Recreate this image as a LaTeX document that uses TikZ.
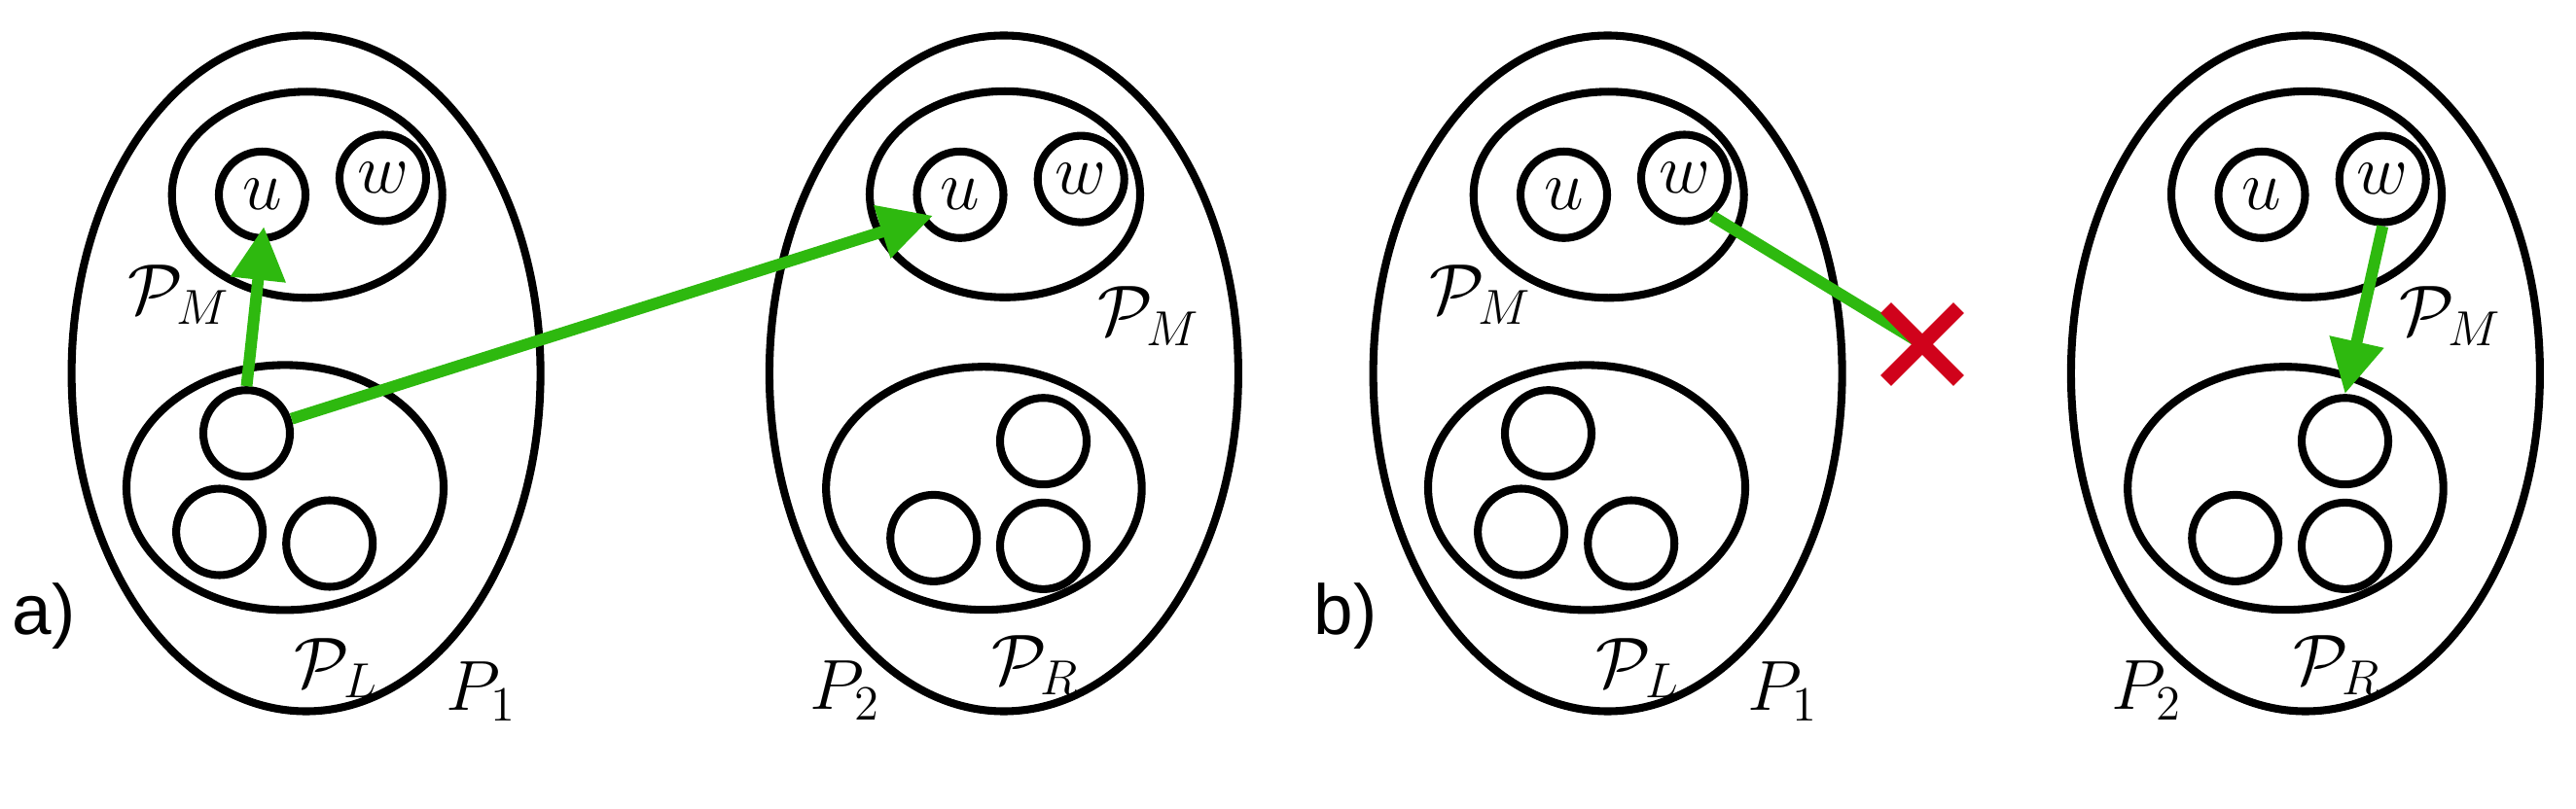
\documentclass[tikz,border=0pt]{standalone}
\usepackage{amsmath,amssymb}
\usepackage{fontspec}
\newfontfamily\panelfont{Liberation Sans}
\usepackage{tikz}
\usetikzlibrary{calc, arrows.meta, shapes.geometric, shapes.misc}
\tikzset{>={Triangle[length = 0.55cm, width = 0.54cm]}}
\definecolor{mygreen}{RGB}{46, 185, 15}
\definecolor{myred}{RGB}{208, 2, 27}
\tikzset{part/.style = {draw, ellipse, line width = 2.3pt, inner sep = 0pt},
  whole/.style = {part, minimum width = 4.82cm, minimum height = 6.95cm},
  mid/.style = {part, minimum width = 2.78cm, minimum height = 2.12cm},
  side/.style = {part, minimum width = 3.26cm, minimum height = 2.52cm},
  vert/.style = {draw, circle, line width = 2.3pt, minimum size = 0.89cm, inner sep = 0pt, font = \fontsize{20.74}{25}\selectfont},
  lbl/.style = {font = \fontsize{20.74}{25}\selectfont},
  tag/.style = {font = \panelfont\fontsize{20.74}{25}\selectfont},
  move/.style = {->, line width = 3.4pt, mygreen},
  cut/.style = {line width = 3.4pt, mygreen}}

\begin{document}
\begin{tikzpicture}
\useasboundingbox (0, 0) rectangle (26.48, -8.32);
% a)
\node[tag] (tagA) at (0.45, -6.34) {a)};
\node[whole] (P1a) at (3.146, -3.84) {};
\node[mid] (PMa) at (3.157, -2.003) {};
\node[vert] (ua) at (2.695, -2.003) {$u$};
\node[vert] (wa) at (3.935, -1.83) {$w$};
\node[side] (PLa) at (2.93, -5.014) {};
\node[vert] (la1) at (2.535, -4.457) {};
\node[vert] (la2) at (2.256, -5.47) {};
\node[vert] (la3) at (3.387, -5.59) {};
\node[lbl] (lPMa) at (1.84, -3.035) {$\mathcal{P}_M$};
\node[lbl] (lPLa) at (3.455, -6.87) {$\mathcal{P}_L$};
\node[lbl] (lP1a) at (4.946, -7.11) {$P_1$};

\node[whole] (P2a) at (10.319, -3.84) {};
\node[mid] (PMa2) at (10.33, -1.998) {};
\node[vert] (ua2) at (9.87, -2.003) {$u$};
\node[vert] (wa2) at (11.112, -1.841) {$w$};
\node[side, minimum width = 3.245cm, minimum height = 2.5cm] (PRa) at (10.114, -5.022) {};
\node[vert] (ra1) at (10.725, -4.537) {};
\node[vert] (ra2) at (9.597, -5.534) {};
\node[vert] (ra3) at (10.725, -5.614) {};
\node[lbl] (lPMa2) at (11.809, -3.25) {$\mathcal{P}_M$};
\node[lbl] (lPRa) at (10.645, -6.845) {$\mathcal{P}_R$};
\node[lbl] (lP2a) at (8.69, -7.097) {$P_2$};

\draw[move, shorten >= -0.16cm] (la1.north) -- (ua.south);
\draw[move, shorten >= -0.14cm] (la1.18) -- (ua2.212);

% b)
\node[tag] (tagB) at (13.83, -6.34) {b)};
\node[whole] (P1b) at (16.526, -3.84) {};
\node[mid] (PMb) at (16.537, -2.003) {};
\node[vert] (ub) at (16.075, -2.003) {$u$};
\node[vert] (wb) at (17.315, -1.83) {$w$};
\node[side] (PLb) at (16.31, -5.014) {};
\node[vert] (lb1) at (15.915, -4.457) {};
\node[vert] (lb2) at (15.636, -5.47) {};
\node[vert] (lb3) at (16.767, -5.59) {};
\node[lbl] (lPMb) at (15.22, -3.035) {$\mathcal{P}_M$};
\node[lbl] (lPLb) at (16.835, -6.87) {$\mathcal{P}_L$};
\node[lbl] (lP1b) at (18.326, -7.11) {$P_1$};

\node[whole] (P2b) at (23.699, -3.84) {};
\node[mid] (PMb2) at (23.71, -1.998) {};
\node[vert] (ub2) at (23.25, -2.003) {$u$};
\node[vert] (wb2) at (24.492, -1.841) {$w$};
\node[side, minimum width = 3.245cm, minimum height = 2.5cm] (PRb) at (23.494, -5.022) {};
\node[vert] (rb1) at (24.105, -4.537) {};
\node[vert] (rb2) at (22.977, -5.534) {};
\node[vert] (rb3) at (24.105, -5.614) {};
\node[lbl] (lPMb2) at (25.189, -3.25) {$\mathcal{P}_M$};
\node[lbl] (lPRb) at (24.025, -6.845) {$\mathcal{P}_R$};
\node[lbl] (lP2b) at (22.07, -7.097) {$P_2$};

\coordinate (xb) at (19.76, -3.54);
\draw[cut] (wb.-54) -- (xb);
\node[cross out, draw = myred, line width = 4.4pt, minimum size = 0.594cm, inner sep = 0pt] (crossb) at (xb) {};
\draw[move] (wb2.south) -- (rb1.north);
\end{tikzpicture}
\end{document}
